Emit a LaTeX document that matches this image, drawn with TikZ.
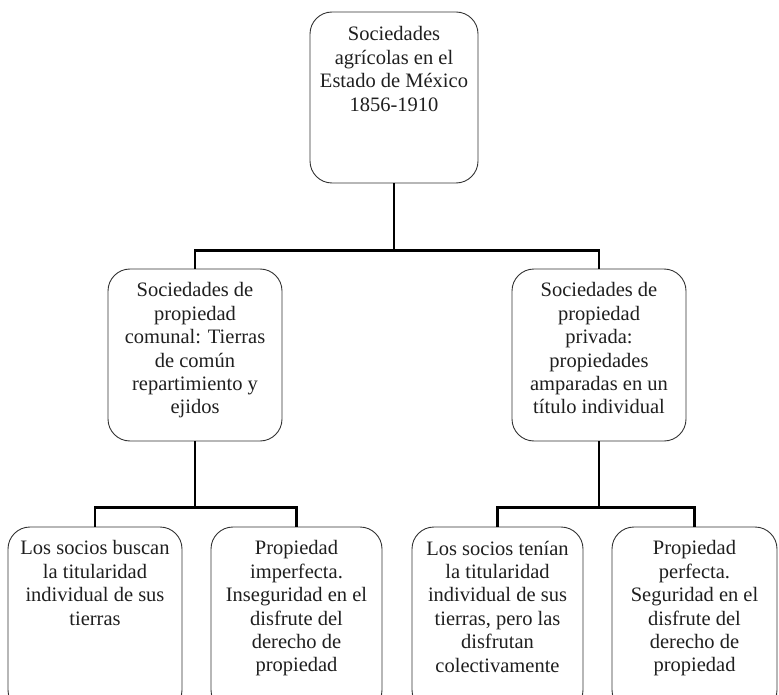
\documentclass[tikz,border=0pt]{standalone}
\usepackage{fontspec}
\setmainfont{Liberation Serif}
\begin{document}
\begin{tikzpicture}[x=1pt,y=-1pt,
  box/.style={draw=black!80, line width=0.9pt, rounded corners=22pt, inner sep=0pt, minimum height=#1},
  box/.default=172pt,
  label/.style={anchor=north, align=center, inner sep=0pt, text=black!88,
    font=\fontsize{20.5}{23.4}\selectfont},
  conn/.style={line width=2.4pt, black}]
\useasboundingbox (0,0) rectangle (779,695);
\clip (0,0) rectangle (779,695);
% boxes
\node[box=171pt, minimum width=168pt] (top) at (394,97.5) {};
\node[box, minimum width=174pt] (midL) at (195,355) {};
\node[box, minimum width=174pt] (midR) at (599,355) {};
\node[box=185pt, minimum width=174pt] (b1) at (95,619.5) {};
\node[box=185pt, minimum width=171pt] (b2) at (296.5,619.5) {};
\node[box=185pt, minimum width=171pt] (b3) at (497.5,619.5) {};
\node[box=185pt, minimum width=165pt] (b4) at (694.5,619.5) {};
% texts
\node[label] (ttop) at ([yshift=-15pt]top.north) {Sociedades\\agrícolas en el\\Estado de México\\1856-1910};
\node[label] (tmidL) at ([yshift=-14pt]midL.north) {Sociedades de\\propiedad\\comunal: Tierras\\de común\\repartimiento y\\ejidos};
\node[label] (tmidR) at ([yshift=-14pt]midR.north) {Sociedades de\\propiedad\\privada:\\propiedades\\amparadas en un\\título individual};
\node[label] (tb1) at ([yshift=-14pt]b1.north) {Los socios buscan\\la titularidad\\individual de sus\\tierras};
\node[label] (tb2) at ([yshift=-14pt]b2.north) {Propiedad\\imperfecta.\\Inseguridad en el\\disfrute del\\derecho de\\propiedad};
\node[label] (tb3) at ([yshift=-14pt]b3.north) {Los socios tenían\\la titularidad\\individual de sus\\tierras, pero las\\disfrutan\\colectivamente};
\node[label] (tb4) at ([yshift=-14pt]b4.north) {Propiedad\\perfecta.\\Seguridad en el\\disfrute del\\derecho de\\propiedad};
% connectors
\coordinate (j1) at ([yshift=-67pt]top.south);
\coordinate (j2) at ([yshift=-66pt]midL.south);
\coordinate (j3) at ([yshift=-66pt]midR.south);
\draw[conn] (top.south) -- (j1);
\draw[conn] (j1) -| (midL.north);
\draw[conn] (j1) -| (midR.north);
\draw[conn] (midL.south) -- (j2);
\draw[conn] (j2) -| (b1.north);
\draw[conn] (j2) -| (b2.north);
\draw[conn] (midR.south) -- (j3);
\draw[conn] (j3) -| (b3.north);
\draw[conn] (j3) -| (b4.north);
\end{tikzpicture}
\end{document}
